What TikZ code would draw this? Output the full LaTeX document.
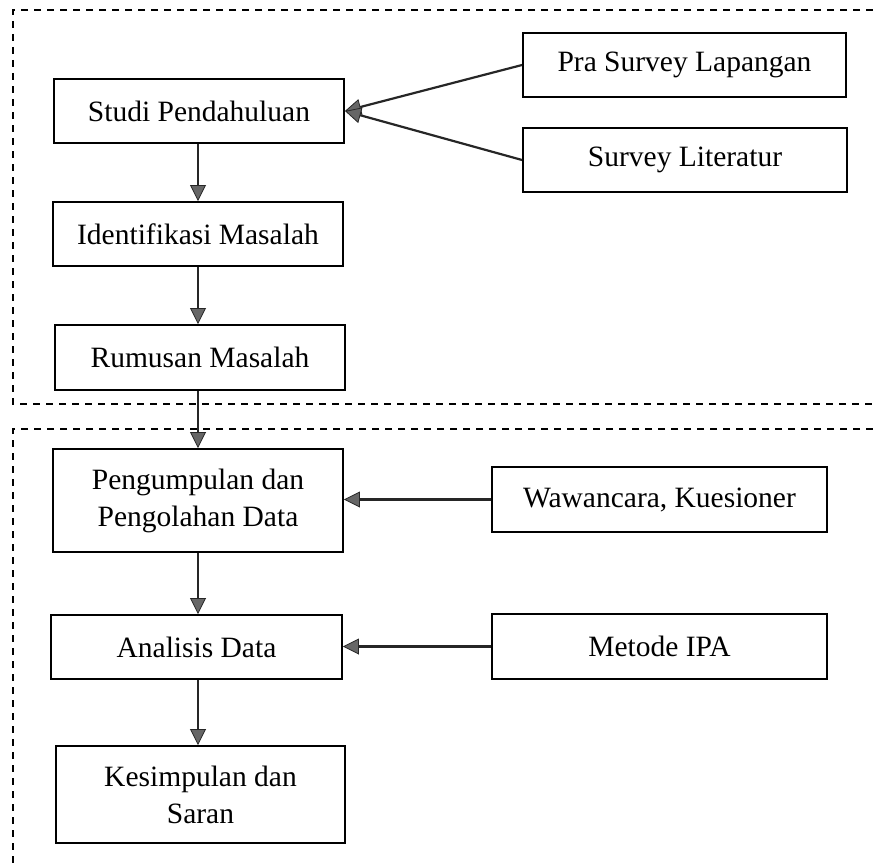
\documentclass[tikz,border=0pt]{standalone}
\usepackage{fontspec}
\setmainfont{Liberation Serif}
\usetikzlibrary{arrows.meta}
\begin{document}
\begin{tikzpicture}[x=1pt,y=-1pt,
  box/.style={draw=black,line width=1.9pt,inner sep=0pt,align=center,
    font=\fontsize{29.5}{37}\selectfont},
  flow/.style={draw=black!85,line width=2.2pt,
    -{Triangle[length=16pt,width=16pt,fill=black!60,line width=0.8pt]}},
  frame/.style={draw=black,line width=2pt,dash pattern=on 7pt off 6pt}]
\useasboundingbox (0,0) rectangle (873,867);
% dashed frames
\coordinate (t1) at (873,10);
\coordinate (t2) at (13,10);
\coordinate (t3) at (13,404);
\coordinate (t4) at (873,404);
\coordinate (b1) at (873,429);
\coordinate (b2) at (13,429);
\coordinate (b3) at (13,867);
\draw[frame] (t1) -- (t2) -- (t3) -- (t4);
\draw[frame] (b1) -- (b2) -- (b3);
% boxes
\node[box,minimum width=290pt,minimum height=64pt] (studi) at (199,111) {Studi Pendahuluan};
\node[box,minimum width=290pt,minimum height=64pt] (ident) at (198,234) {Identifikasi Masalah};
\node[box,minimum width=290pt,minimum height=65pt] (rumus) at (200,357.5) {Rumusan Masalah};
\node[box,minimum width=290pt,minimum height=103pt] (kumpul) at (198,500.5) {Pengumpulan dan\\Pengolahan Data};
\node[box,minimum width=291pt,minimum height=64pt] (anal) at (196.5,647) {Analisis Data};
\node[box,minimum width=289pt,minimum height=97pt] (kesim) at (200.5,794.5) {Kesimpulan dan\\Saran};
\node[box,minimum width=323pt,minimum height=64pt] (pra) at (684.5,65) {Pra Survey Lapangan};
\node[box,minimum width=324pt,minimum height=64pt] (lit) at (685,160) {Survey Literatur};
\node[box,minimum width=335pt,minimum height=65pt] (waw) at (659.5,499.5) {Wawancara, Kuesioner};
\node[box,minimum width=335pt,minimum height=65pt] (ipa) at (659.5,646.5) {Metode IPA};
% connectors
\coordinate (x0) at (198,0);
\draw[flow] (x0 |- studi.south) -- (x0 |- ident.north);
\draw[flow] (x0 |- ident.south) -- (x0 |- rumus.north);
\draw[flow] (x0 |- rumus.south) -- (x0 |- kumpul.north);
\draw[flow] (x0 |- kumpul.south) -- (x0 |- anal.north);
\draw[flow] (x0 |- anal.south) -- (x0 |- kesim.north);
\draw[flow] (pra.west) -- (studi.east);
\draw[flow] (lit.west) -- (studi.east);
\draw[flow] (waw.west) -- (waw.west -| kumpul.east);
\draw[flow] (ipa.west) -- (ipa.west -| anal.east);
\end{tikzpicture}
\end{document}
